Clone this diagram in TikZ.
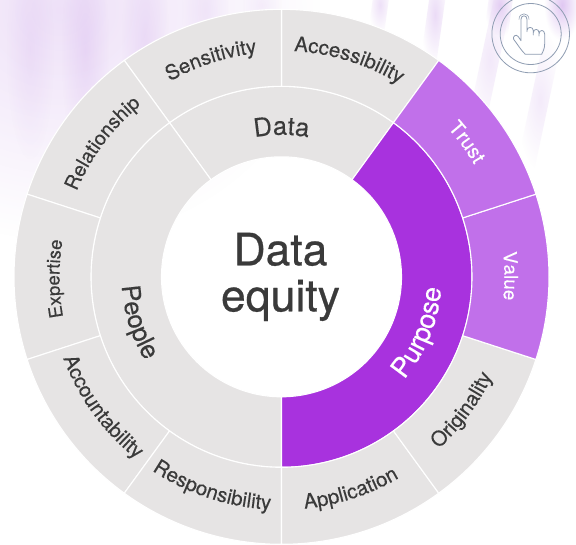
\documentclass[tikz,border=0pt]{standalone}
\usepackage{fontspec}
\setmainfont[FakeBold=0.25]{TeX Gyre Heros}
\newfontfamily\titlefont[FakeBold=0.6]{TeX Gyre Heros}
\usetikzlibrary{decorations.text,fadings}
\definecolor{ringgray}{HTML}{E6E4E4}
\definecolor{deep}{HTML}{A832DE}
\definecolor{soft}{HTML}{C170EA}
\definecolor{ink}{HTML}{3A3A3A}
\definecolor{lav}{HTML}{C79AE8}
\definecolor{iconline}{HTML}{8F9DB2}
\tikzfading[name=glow, inner color=transparent!0, outer color=transparent!100]
\tikzset{
  sector/.style={draw=white, line width=1.1pt, line join=miter},
  ringlabel/.style={decorate, decoration={text along path, text align=center, text={#1}}},
  iconpath/.style={draw=iconline, line width=0.8pt, line join=round, line cap=round},
}
% #1 colour #2 start #3 end #4 inner r #5 outer r
\newcommand{\ringsector}[5]{%
  \path[sector, fill=#1] (#2:#4) -- (#2:#5) arc[start angle=#2, end angle=#3, radius=#5] -- (#3:#4) arc[start angle=#3, end angle=#2, radius=#4] -- cycle;}
% clockwise label: #1 angle #2 radius #3 format #4 text
\newcommand{\cwlabel}[4]{%
  \pgfmathsetmacro{\sa}{#1+42}\pgfmathsetmacro{\ea}{#1-42}%
  \path[ringlabel={|#3|#4}] (\sa:#2) arc[start angle=\sa, end angle=\ea, radius=#2];}
\newcommand{\ccwlabel}[4]{%
  \pgfmathsetmacro{\sa}{#1-42}\pgfmathsetmacro{\ea}{#1+42}%
  \path[ringlabel={|#3|#4}] (\sa:#2) arc[start angle=\sa, end angle=\ea, radius=#2];}
% background streak: centre x, centre y (px from top), half width, half height, opacity, tilt
\newcommand{\streak}[6]{%
  \fill[lav, opacity=#5, path fading=glow, fit fading=true, rotate around={#6:(#1,-#2)}] (#1-#3,-#2-#4) rectangle (#1+#3,-#2+#4);}
\newcommand{\smalltype}{\fontsize{20.5}{22}\selectfont\color{ink}}
\newcommand{\relatype}{\fontsize{19.8}{22}\selectfont\color{ink}}
\newcommand{\midtype}{\fontsize{18.5}{22}\selectfont\color{ink}}
\newcommand{\whitetype}{\fontsize{20}{22}\selectfont\color{white}}
\newcommand{\whitemid}{\fontsize{18.7}{22}\selectfont\color{white}}
\newcommand{\bigtype}{\fontsize{25.5}{28}\selectfont\color{ink}}
\newcommand{\bigwhite}{\fontsize{27}{28}\selectfont\color{white}}
\begin{document}
\begin{tikzpicture}[x=1pt,y=1pt]
\useasboundingbox (0,0) rectangle (576,-544);
\fill[white] (0,0) rectangle (576,-544);
% background wash
\streak{60}{10}{260}{230}{0.30}{0}
\streak{30}{50}{24}{110}{0.15}{0}
\streak{85}{50}{24}{120}{0.22}{0}
\streak{145}{40}{24}{100}{0.20}{0}
\streak{205}{10}{24}{60}{0.15}{0}
\streak{262}{5}{20}{25}{0.12}{0}
\streak{380}{5}{8}{28}{0.30}{-8}
\streak{435}{15}{8}{50}{0.35}{-8}
\streak{490}{60}{9}{80}{0.22}{-12}
\streak{540}{100}{9}{70}{0.20}{-12}
\streak{562}{5}{18}{35}{0.55}{0}
\streak{500}{5}{12}{30}{0.45}{-8}
\begin{scope}[shift={(281.5,-276.8)}]
  % inner ring
  \ringsector{ringgray}{54}{126}{120}{190.5}
  \ringsector{ringgray}{126}{270}{120}{190.5}
  \ringsector{deep}{-90}{54}{120}{190.5}
  % outer ring
  \ringsector{ringgray}{54}{90}{190.5}{267.5}
  \ringsector{ringgray}{90}{126}{190.5}{267.5}
  \ringsector{ringgray}{126}{162}{190.5}{267.5}
  \ringsector{ringgray}{162}{198}{190.5}{267.5}
  \ringsector{ringgray}{198}{234}{190.5}{267.5}
  \ringsector{ringgray}{234}{270}{190.5}{267.5}
  \ringsector{ringgray}{270}{306}{190.5}{267.5}
  \ringsector{ringgray}{306}{342}{190.5}{267.5}
  \ringsector{soft}{-18}{18}{190.5}{267.5}
  \ringsector{soft}{18}{54}{190.5}{267.5}
  % outer labels
  \cwlabel{72.7}{226}{\smalltype}{Accessibility}
  \cwlabel{108}{225}{\smalltype}{Sensitivity}
  \cwlabel{143.3}{222}{\relatype}{Relationship}
  \cwlabel{180.5}{222}{\midtype}{Expertise}
  \ccwlabel{216}{233}{\smalltype}{Accountability}
  \ccwlabel{251.8}{233}{\smalltype}{Responsibility}
  \ccwlabel{288}{233}{\smalltype}{Application}
  \ccwlabel{323.6}{233}{\smalltype}{Originality}
  \cwlabel{0.2}{223}{\whitemid}{Value}
  \cwlabel{36}{223}{\whitetype}{Trust}
  % inner labels
  \cwlabel{90}{142}{\bigtype}{Data}
  \ccwlabel{197.5}{160}{\bigtype}{People}
  \ccwlabel{-22}{160}{\bigwhite}{Purpose}
  % centre
  \node[anchor=base, font=\titlefont\fontsize{44.5}{46}\selectfont, text=ink, inner sep=0pt] (title1) at (-1,11.5) {Data};
  \node[anchor=base, font=\titlefont\fontsize{44.5}{46}\selectfont, text=ink, inner sep=0pt] (title2) at (-1,-34.5) {equity};
\end{scope}
% touch icon
\draw[iconline, line width=0.8pt] (530.7,-34) circle[radius=38.8];
\draw[iconline, line width=0.8pt] (530.7,-34) circle[radius=30.5];
\begin{scope}[shift={(480,0)}, x=0.3333pt, y=-0.3333pt]
  \draw[iconpath] (123,122) -- (123,58) .. controls (123,44) and (141,44) .. (141,58) -- (141,95)
    (141,92) .. controls (141,79) and (160,79) .. (160,92) -- (160,105)
    (160,98) .. controls (160,85) and (177,85) .. (177,98) -- (177,108)
    (177,102) .. controls (177,88) and (194,88) .. (194,102)
    -- (194,132) .. controls (194,148) and (188,155) .. (185,163) -- (136,163)
    .. controls (124,152) and (112,132) .. (101,118)
    .. controls (97,110) and (108,100) .. (115,110) -- (123,122);
  \draw[iconpath, line width=0.6pt] (117,58) .. controls (117,36) and (147,36) .. (147,58);
\end{scope}
\end{tikzpicture}
\end{document}
